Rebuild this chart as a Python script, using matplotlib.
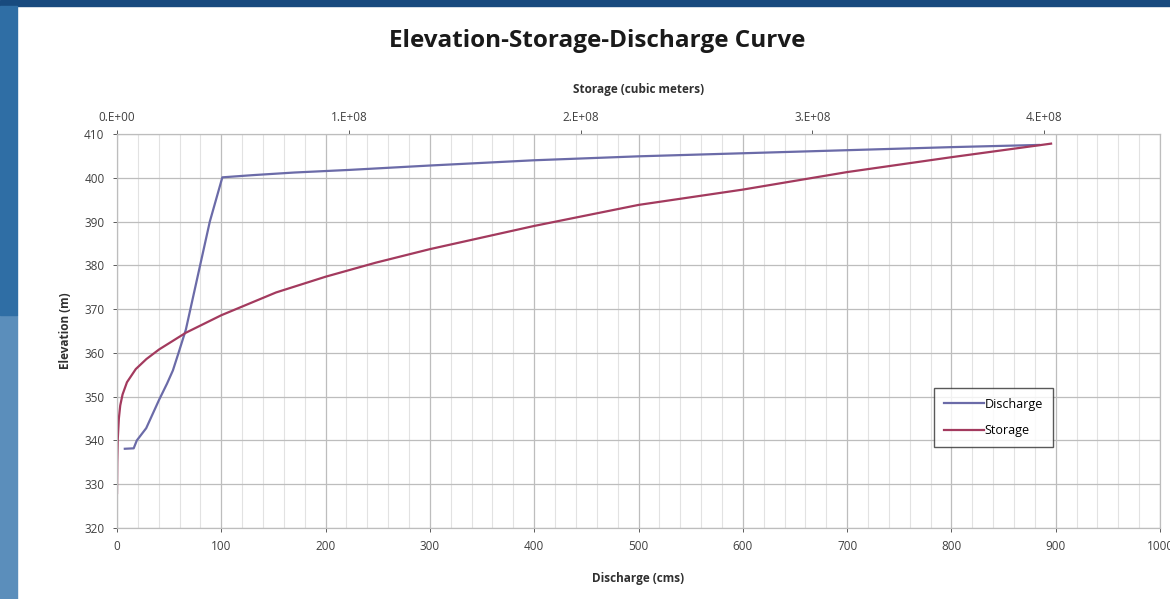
import matplotlib.pyplot as plt
from matplotlib.patches import Rectangle
from matplotlib.ticker import MultipleLocator, FixedLocator, FuncFormatter

# discharge curve (cms vs elevation m)
discharge_cms = [7.5, 16, 19, 28, 40.4, 48, 53.6, 59, 66, 79.5, 89, 101,
                 130, 170, 223, 300, 400, 500, 600, 700, 800, 884]
discharge_elev = [338.1, 338.2, 340, 342.8, 349.3, 353, 356, 360, 365.3, 379.8, 390, 400.1,
                  400.6, 401.2, 401.8, 402.8, 404.0, 404.9, 405.6, 406.3, 407.0, 407.5]

# storage curve (cubic meters vs elevation m)
storage_m3 = [0, 0.1e6, 0.3e6, 0.8e6, 1.4e6, 2.4e6, 4.3e6, 8.1e6, 12.7e6, 18.2e6, 29.7e6,
              45e6, 68.6e6, 90e6, 111.6e6, 135e6, 180e6, 225e6, 270e6, 315e6, 360e6, 403e6]
storage_elev = [328, 335, 340, 345, 348, 350.5, 353.3, 356.3, 358.6, 360.8, 364.6,
                368.6, 373.8, 377.4, 380.6, 383.7, 389, 393.8, 397.3, 401.3, 404.7, 407.8]

storage_ticks = [0, 1e8, 2e8, 3e8, 4e8]

font = ['Open Sans', 'DejaVu Sans']
plt.rcParams['font.family'] = font

fig = plt.figure(figsize=(11.7, 5.99), dpi=100)
fig.patch.set_facecolor('white')

# blue frame of the slide
fig.add_artist(Rectangle((0, 1 - 6 / 599), 1, 6 / 599, transform=fig.transFigure,
                         color='#184a7e', zorder=0))
fig.add_artist(Rectangle((0, 0), 17 / 1170, 1 - 315 / 599, transform=fig.transFigure,
                         color='#5b8ebb', zorder=0))
fig.add_artist(Rectangle((0, 1 - 315 / 599), 17 / 1170, (315 - 6) / 599,
                         transform=fig.transFigure, color='#2f6ea5', zorder=0))

ax = fig.add_axes([117 / 1170, 1 - 528 / 599, (1160 - 117) / 1170, (528 - 134) / 599])

ax.plot(discharge_cms, discharge_elev, color='#6b6ba8', lw=1.6, label='Discharge')
ax.set_xlim(0, 1000)
ax.set_ylim(320, 410)
ax.xaxis.set_major_locator(MultipleLocator(100))
ax.xaxis.set_minor_locator(MultipleLocator(20))
ax.yaxis.set_major_locator(MultipleLocator(10))
ax.grid(which='major', color='#bdbdbd', lw=0.9)
ax.grid(which='minor', axis='x', color='#e2e2e2', lw=0.8)
ax.set_axisbelow(True)
ax.tick_params(which='both', labelsize=8.5, colors='#404040', length=3, width=0.6, pad=6)
ax.tick_params(which='minor', length=0)
for s in ax.spines.values():
    s.set_color('#bdbdbd')
ax.set_xlabel('Discharge (cms)', fontsize=8.5, fontweight='bold', color='#303030',
              labelpad=13)
ax.set_ylabel('Elevation (m)', fontsize=8.5, fontweight='bold', color='#303030',
              labelpad=9)

ax2 = ax.twiny()
ax2.plot(storage_m3, storage_elev, color='#a33a5e', lw=1.6, label='Storage')
ax2.set_xlim(0, 4.5e8)
ax2.xaxis.set_major_locator(FixedLocator(storage_ticks))
ax2.xaxis.set_major_formatter(FuncFormatter(lambda v, p: '%d.E+%02d' % (
    v / 1e8 if v else 0, 8 if v else 0)))
ax2.tick_params(labelsize=8.5, colors='#404040', length=3, width=0.6, pad=4)
for s in ax2.spines.values():
    s.set_color('#bdbdbd')
ax2.set_xlabel('Storage (cubic meters)', fontsize=8.5, fontweight='bold', color='#303030',
               labelpad=13)

h1, l1 = ax.get_legend_handles_labels()
h2, l2 = ax2.get_legend_handles_labels()
leg = ax2.legend(h1 + h2, l1 + l2, loc='upper left', bbox_to_anchor=(0.7835, 0.355),
                 fontsize=9, frameon=True, fancybox=False, handlelength=3.2,
                 handletextpad=0.1, borderpad=0.75, labelspacing=1.1, borderaxespad=0)
leg.get_frame().set_edgecolor('#303030')
leg.get_frame().set_linewidth(1.0)

fig.text(0.51, 0.932, 'Elevation-Storage-Discharge Curve', ha='center', va='center',
         fontsize=17.5, fontweight='bold', color='#1a1a1a')

fig.savefig('out.png', dpi=100)
